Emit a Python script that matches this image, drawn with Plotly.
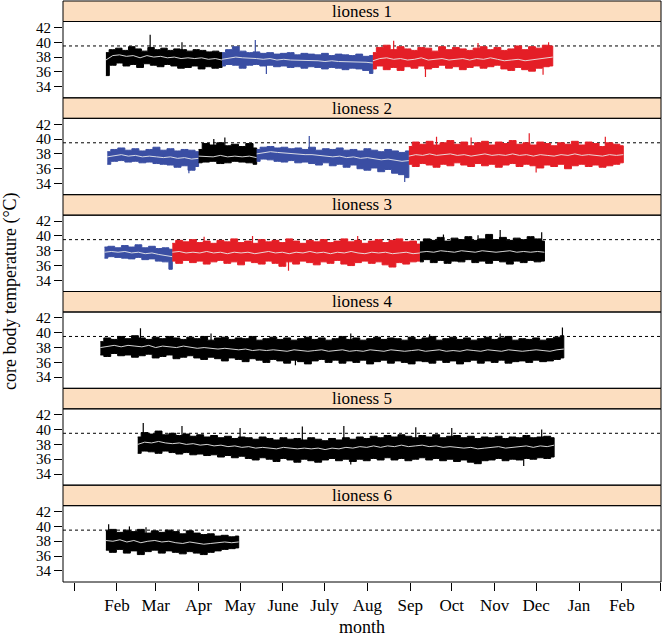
import pandas as pd
import plotly.graph_objects as go

# ---------------- data ----------------
MONTH_TICKS = ["2010-01-01", "2010-02-01", "2010-03-01", "2010-04-01", "2010-05-01",
               "2010-06-01", "2010-07-01", "2010-08-01", "2010-09-01", "2010-10-01",
               "2010-11-01", "2010-12-01", "2011-01-01", "2011-02-01", "2011-03-01"]
MONTH_LABELS = ["", "Feb", "Mar", "Apr", "May", "June", "July", "Aug", "Sep", "Oct",
                "Nov", "Dec", "Jan", "Feb", ""]
PANEL_NAMES = ["lioness 1", "lioness 2", "lioness 3", "lioness 4", "lioness 5", "lioness 6"]
THRESHOLD = 39.5
Y_TICKS = [34, 36, 38, 40, 42]

# lioness 1
L1_SEG_START = ["2010-01-24", "2010-04-18", "2010-08-05"]
L1_SEG_END = ["2010-04-18", "2010-08-05", "2010-12-13"]
L1_SEG_STATE = ["A", "B", "C"]
L1_HI = [[38.6, 39.0, 39.2, 38.9, 39.4, 39.1, 38.8, 39.3, 39.0, 39.2, 38.9, 39.1, 39.0, 38.8, 39.0, 38.9, 38.7, 38.8, 38.6],
         [38.6, 39.0, 39.4, 38.8, 38.6, 38.7, 38.5, 38.6, 38.4, 38.5, 38.6, 38.3, 38.5, 38.4, 38.3, 38.5, 38.2, 38.4, 38.3, 38.2, 38.4, 38.1, 38.2],
         [38.6, 39.3, 39.6, 39.0, 39.4, 39.1, 38.9, 39.3, 39.2, 38.8, 39.4, 39.0, 39.3, 39.1, 38.9, 39.2, 39.4, 39.0, 39.3, 38.9, 39.1, 39.5, 39.0, 39.4, 39.2, 39.6, 39.5]]
L1_LO = [[35.5, 36.9, 37.2, 36.8, 37.0, 36.6, 37.1, 36.9, 36.7, 37.0, 36.8, 36.5, 36.6, 36.8, 36.4, 36.7, 36.5, 36.6],
         [36.8, 37.0, 36.9, 36.5, 36.9, 37.0, 36.8, 36.9, 36.7, 36.8, 36.6, 36.7, 36.5, 36.7, 36.6, 36.4, 36.6, 36.5, 36.3, 36.5, 36.4, 36.2, 35.8],
         [36.4, 36.8, 36.3, 36.6, 36.2, 36.7, 36.5, 36.8, 36.4, 36.6, 36.9, 36.5, 36.7, 36.3, 36.6, 36.8, 36.5, 36.7, 36.9, 36.4, 36.2, 36.6, 36.3, 36.1, 36.5, 36.7, 36.8]]
L1_MID = [[37.6, 38.2, 38.3, 38.1, 38.2, 37.9, 38.2, 38.0, 38.1, 37.9, 38.0, 37.8, 37.9, 37.8, 37.9, 37.7, 37.8, 37.6],
          [37.7, 37.9, 38.0, 37.9, 37.8, 37.8, 37.7, 37.8, 37.6, 37.7, 37.6, 37.6, 37.5, 37.6, 37.5, 37.4, 37.5, 37.4, 37.4, 37.3, 37.4, 37.3, 37.2],
          [37.5, 37.8, 37.9, 37.7, 37.8, 37.6, 37.7, 37.9, 37.6, 37.7, 37.8, 37.6, 37.7, 37.8, 37.6, 37.8, 37.7, 37.9, 37.7, 37.5, 37.6, 37.7, 37.5, 37.6, 37.8, 37.9, 38.0]]
L1_SPIKE_DATES = ["2010-02-25", "2010-03-20", "2010-05-12", "2010-05-20", "2010-08-20", "2010-09-12", "2010-10-20", "2010-12-10", "2010-12-06"]
L1_SPIKE_VALS = [41.0, 40.0, 40.3, 35.7, 40.2, 35.3, 39.9, 40.0, 35.6]

# lioness 2
L2_SEG_START = ["2010-01-25", "2010-04-01", "2010-05-13", "2010-08-31"]
L2_SEG_END = ["2010-04-01", "2010-05-13", "2010-08-31", "2011-02-02"]
L2_SEG_STATE = ["B", "A", "B", "C"]
L2_HI = [[38.3, 38.6, 38.8, 38.5, 38.7, 38.4, 38.6, 38.9, 38.5, 38.7, 38.4, 38.6, 38.5, 38.3],
         [38.6, 39.4, 39.2, 39.5, 39.1, 39.3, 39.0, 39.4, 38.8],
         [38.6, 38.9, 39.0, 38.8, 38.9, 38.7, 38.8, 38.6, 38.9, 38.5, 38.7, 38.6, 38.8, 38.5, 38.6, 38.4, 38.7, 38.5, 38.3, 38.6, 38.4, 38.2, 38.4],
         [39.0, 39.6, 39.3, 39.7, 39.2, 39.5, 39.8, 39.3, 39.6, 39.1, 39.5, 39.7, 39.2, 39.6, 39.4, 39.8, 39.3, 39.5, 39.2, 39.6, 39.4, 39.1, 39.5, 39.3, 39.7, 39.2, 39.6, 39.4, 39.0, 39.5, 39.3, 39.1]]
L2_LO = [[36.6, 37.0, 37.1, 36.9, 37.0, 36.8, 36.9, 36.7, 36.6, 36.5, 36.2, 36.4, 35.8, 36.3],
         [36.8, 36.9, 37.0, 36.7, 36.8, 37.0, 36.9, 36.8, 36.6],
         [37.0, 37.3, 37.2, 37.0, 36.9, 37.1, 36.8, 36.9, 36.7, 36.5, 36.8, 36.4, 36.6, 36.2, 36.5, 36.0, 35.8, 36.1, 35.6, 35.9, 35.4, 35.2, 34.8],
         [36.6, 36.3, 36.7, 36.5, 36.2, 36.6, 36.4, 36.8, 36.5, 36.3, 36.7, 36.4, 36.6, 36.2, 36.5, 36.7, 36.3, 36.6, 36.4, 36.1, 36.5, 36.3, 36.6, 36.0, 36.4, 36.6, 36.3, 36.5, 36.2, 36.4, 36.6, 36.8]]
L2_MID = [[37.6, 37.8, 37.9, 37.7, 37.8, 37.6, 37.7, 37.6, 37.5, 37.6, 37.4, 37.5, 37.3, 37.4],
          [37.7, 37.7, 37.6, 37.8, 37.6, 37.7, 37.6, 37.7, 37.5],
          [38.0, 38.2, 38.3, 38.2, 38.1, 38.0, 38.0, 37.9, 37.9, 37.8, 37.8, 37.6, 37.7, 37.5, 37.6, 37.4, 37.5, 37.3, 37.2, 37.3, 37.1, 37.0, 37.1],
          [37.7, 37.9, 37.8, 38.0, 37.8, 37.9, 38.0, 37.8, 37.9, 37.7, 37.9, 38.0, 37.8, 37.9, 37.8, 38.0, 37.8, 37.9, 37.7, 37.9, 37.8, 37.7, 37.9, 37.8, 38.0, 37.8, 37.9, 37.8, 37.7, 37.9, 37.8, 37.9]]
L2_SPIKE_DATES = ["2010-03-25", "2010-04-12", "2010-04-20", "2010-06-20", "2010-08-28", "2010-09-20", "2010-10-15", "2010-11-26", "2010-12-01", "2011-01-20"]
L2_SPIKE_VALS = [35.4, 40.0, 40.2, 40.4, 34.2, 40.3, 40.2, 40.8, 35.5, 40.3]

# lioness 3
L3_SEG_START = ["2010-01-23", "2010-03-13", "2010-09-08"]
L3_SEG_END = ["2010-03-13", "2010-09-08", "2010-12-07"]
L3_SEG_STATE = ["B", "C", "A"]
L3_HI = [[38.5, 38.6, 38.4, 38.7, 38.5, 38.8, 38.4, 38.6, 38.3, 38.4, 38.2],
         [39.0, 39.4, 39.2, 39.5, 39.1, 39.3, 39.0, 39.4, 39.2, 39.6, 39.1, 39.3, 39.0, 39.5, 39.2, 39.4, 39.1, 39.6, 39.3, 39.0, 39.4, 39.2, 39.5, 39.1, 39.3, 39.6, 39.2, 39.4, 39.0, 39.3, 39.5, 39.1, 39.4, 39.6, 39.2, 39.3, 38.9],
         [39.2, 39.6, 39.4, 39.8, 39.3, 39.7, 39.5, 39.9, 39.4, 39.6, 40.2, 39.5, 39.8, 39.4, 39.7, 39.5, 39.9, 39.6, 39.3]]
L3_LO = [[37.0, 37.2, 37.1, 37.0, 36.9, 37.1, 36.8, 36.9, 36.6, 36.5, 35.5],
         [36.6, 36.3, 36.7, 36.4, 36.6, 36.2, 36.5, 36.7, 36.3, 36.5, 36.1, 36.6, 36.4, 36.2, 36.6, 36.3, 35.9, 36.5, 36.2, 36.6, 36.4, 36.1, 36.5, 36.3, 36.7, 36.2, 36.0, 36.4, 36.6, 36.3, 36.5, 36.1, 35.8, 36.4, 36.2, 36.5, 36.6],
         [36.5, 36.8, 36.4, 36.7, 36.3, 36.6, 36.5, 36.8, 36.4, 36.6, 36.3, 36.7, 36.5, 36.2, 36.6, 36.4, 36.7, 36.5, 36.6]]
L3_MID = [[37.8, 37.9, 37.8, 37.9, 37.7, 37.8, 37.6, 37.7, 37.5, 37.4, 37.2],
          [37.8, 37.9, 37.7, 37.8, 37.7, 37.9, 37.7, 37.8, 37.6, 37.8, 37.7, 37.8, 37.6, 37.8, 37.9, 37.7, 37.8, 37.6, 37.8, 37.7, 37.9, 37.7, 37.8, 37.6, 37.8, 37.7, 37.9, 37.7, 37.6, 37.8, 37.7, 37.8, 37.6, 37.7, 37.8, 37.6, 37.7],
          [37.8, 37.9, 37.8, 38.0, 37.9, 37.8, 38.0, 37.9, 37.8, 38.0, 37.9, 37.8, 37.9, 38.0, 37.8, 37.9, 37.8, 37.9, 37.8]]
L3_SPIKE_DATES = ["2010-04-05", "2010-05-10", "2010-06-05", "2010-07-25", "2010-09-25", "2010-10-20", "2010-11-05", "2010-12-05"]
L3_SPIKE_VALS = [39.9, 40.0, 35.3, 40.0, 40.2, 40.1, 40.8, 40.5]

# lioness 4
L4_SEG_START = ["2010-01-20"]
L4_SEG_END = ["2010-12-21"]
L4_SEG_STATE = ["A"]
L4_HI = [[38.8, 39.3, 39.1, 39.5, 39.2, 39.6, 39.3, 39.1, 39.4, 39.2, 39.5, 39.3, 39.1, 39.4, 39.2, 39.5, 39.0, 39.3, 39.4, 39.1,
          39.3, 39.2, 39.5, 39.0, 39.2, 39.4, 39.1, 39.3, 39.0, 39.2, 39.4, 39.1, 39.3, 39.0, 39.2, 39.5, 39.1, 39.3, 39.0, 39.2,
          39.4, 39.1, 39.3, 39.2, 39.0, 39.4, 39.1, 39.3, 39.5, 39.0, 39.2, 39.4, 39.1, 39.3, 39.0, 39.2, 39.4, 39.1, 39.3, 39.5,
          39.0, 39.2, 39.1, 39.3, 39.0, 39.2, 39.4, 39.6]]
L4_LO = [[37.0, 36.8, 37.2, 36.9, 37.0, 36.7, 36.9, 37.1, 36.6, 36.8, 37.0, 36.5, 36.7, 36.9, 36.6, 36.4, 36.7, 36.5, 36.2, 36.6,
          36.4, 36.1, 36.5, 36.3, 36.0, 36.4, 36.2, 35.9, 36.3, 36.1, 35.8, 36.2, 36.4, 36.0, 36.3, 35.9, 36.2, 36.0, 36.3, 35.8,
          36.1, 36.3, 35.9, 36.2, 36.0, 35.8, 36.2, 36.1, 35.9, 36.3, 36.0, 36.2, 35.8, 36.1, 36.3, 35.9, 36.2, 36.0, 36.3, 35.9,
          36.1, 36.2, 36.0, 36.3, 36.1, 36.2, 36.4, 36.6]]
L4_MID = [[38.0, 38.2, 38.3, 38.1, 38.3, 38.2, 38.1, 38.3, 38.0, 38.2, 38.1, 38.0, 38.2, 38.1, 37.9, 38.0, 37.9, 37.8, 37.9, 37.8,
           37.7, 37.8, 37.6, 37.7, 37.6, 37.7, 37.6, 37.5, 37.7, 37.6, 37.5, 37.6, 37.7, 37.5, 37.6, 37.7, 37.5, 37.6, 37.5, 37.7,
           37.6, 37.5, 37.7, 37.6, 37.5, 37.6, 37.7, 37.5, 37.6, 37.7, 37.5, 37.6, 37.5, 37.7, 37.6, 37.5, 37.7, 37.6, 37.5, 37.7,
           37.6, 37.5, 37.6, 37.7, 37.6, 37.5, 37.7, 37.8]]
L4_SPIKE_DATES = ["2010-02-18", "2010-04-10", "2010-06-10", "2010-07-20", "2010-09-15", "2010-11-05", "2010-12-20"]
L4_SPIKE_VALS = [40.6, 39.9, 35.6, 39.9, 39.8, 39.9, 40.7]

# lioness 5
L5_SEG_START = ["2010-02-16"]
L5_SEG_END = ["2010-12-14"]
L5_SEG_STATE = ["A"]
L5_HI = [[39.0, 39.6, 39.4, 39.8, 39.3, 39.5, 39.2, 39.4, 39.1, 39.3, 39.0, 39.2, 38.9, 39.1, 38.8, 39.0, 38.9, 38.7, 39.0, 38.8,
          38.6, 38.9, 38.7, 38.8, 38.6, 38.9, 38.7, 38.5, 38.8, 38.6, 38.9, 38.7, 39.0, 38.8, 39.1, 38.9, 39.2, 39.0, 39.3, 39.1,
          38.9, 39.2, 39.0, 39.3, 38.9, 39.1, 39.2, 38.9, 39.1, 38.8, 39.0, 38.9, 39.1, 38.8, 39.0, 38.9, 39.2, 38.9, 39.0, 39.1, 38.9]]
L5_LO = [[36.8, 37.1, 37.0, 36.8, 37.1, 36.9, 36.7, 36.9, 36.6, 36.7, 36.5, 36.6, 36.3, 36.5, 36.2, 36.4, 36.1, 35.9, 36.2, 36.0,
          35.7, 36.1, 35.9, 35.6, 36.0, 35.8, 35.6, 35.9, 36.1, 35.8, 36.0, 35.7, 36.0, 35.8, 36.1, 35.9, 36.2, 35.9, 36.1, 35.8,
          36.0, 36.2, 35.9, 36.1, 35.8, 36.0, 35.7, 35.9, 35.6, 35.4, 35.8, 35.9, 36.1, 35.8, 36.0, 35.9, 36.1, 36.0, 36.2, 36.1, 36.3]]
L5_MID = [[38.0, 38.3, 38.2, 38.4, 38.2, 38.1, 38.2, 38.0, 38.1, 37.9, 38.0, 37.8, 37.9, 37.7, 37.8, 37.6, 37.7, 37.5, 37.6, 37.5,
           37.4, 37.6, 37.5, 37.4, 37.5, 37.4, 37.5, 37.3, 37.5, 37.4, 37.6, 37.5, 37.7, 37.6, 37.8, 37.6, 37.8, 37.7, 37.9, 37.7,
           37.8, 37.9, 37.7, 37.8, 37.6, 37.7, 37.6, 37.5, 37.6, 37.4, 37.5, 37.6, 37.7, 37.5, 37.6, 37.7, 37.8, 37.6, 37.8, 37.7, 37.9]]
L5_SPIKE_DATES = ["2010-02-20", "2010-03-20", "2010-05-01", "2010-06-15", "2010-07-15", "2010-07-20", "2010-09-05", "2010-10-01", "2010-11-22", "2010-12-05"]
L5_SPIKE_VALS = [40.9, 40.5, 40.2, 40.4, 40.5, 35.3, 40.3, 40.2, 35.1, 40.0]

# lioness 6
L6_SEG_START = ["2010-01-24"]
L6_SEG_END = ["2010-04-30"]
L6_SEG_STATE = ["A"]
L6_HI = [[39.4, 39.6, 39.2, 39.5, 39.3, 39.6, 39.1, 39.4, 39.2, 39.5, 39.3, 39.0, 39.4, 39.1, 38.9, 39.0, 38.7, 38.8, 38.6, 38.7]]
L6_LO = [[36.8, 36.5, 36.9, 36.4, 36.7, 36.2, 36.6, 36.8, 36.4, 36.7, 36.5, 36.3, 36.6, 36.4, 36.2, 36.5, 36.7, 36.9, 37.0, 37.1]]
L6_MID = [[38.1, 38.0, 38.2, 37.9, 38.1, 37.8, 38.0, 38.1, 37.9, 38.0, 37.8, 37.7, 37.9, 37.8, 37.6, 37.7, 37.8, 37.9, 37.8, 37.9]]
L6_SPIKE_DATES = ["2010-01-26", "2010-02-10", "2010-02-22"]
L6_SPIKE_VALS = [40.3, 40.0, 39.9]

# ---------------- styles ----------------
STATE_COLORS = {"A": "#000000", "B": "#3a4ea3", "C": "#e41e26"}
STRIP_FILL = "#fcdec0"
FONT = "Liberation Serif"

W, H = 663, 638
ML, MR, MT, MB = 63, 2, 1, 56
PLOT_H = H - MT - MB
PANEL_H = PLOT_H / 6.0
STRIP_H = 20.5
X_RANGE = ["2009-12-24", "2011-03-01 06:00"]
Y_RANGE = [32.5, 42.8]

panels = [
    (L1_SEG_START, L1_SEG_END, L1_SEG_STATE, L1_HI, L1_LO, L1_MID, L1_SPIKE_DATES, L1_SPIKE_VALS),
    (L2_SEG_START, L2_SEG_END, L2_SEG_STATE, L2_HI, L2_LO, L2_MID, L2_SPIKE_DATES, L2_SPIKE_VALS),
    (L3_SEG_START, L3_SEG_END, L3_SEG_STATE, L3_HI, L3_LO, L3_MID, L3_SPIKE_DATES, L3_SPIKE_VALS),
    (L4_SEG_START, L4_SEG_END, L4_SEG_STATE, L4_HI, L4_LO, L4_MID, L4_SPIKE_DATES, L4_SPIKE_VALS),
    (L5_SEG_START, L5_SEG_END, L5_SEG_STATE, L5_HI, L5_LO, L5_MID, L5_SPIKE_DATES, L5_SPIKE_VALS),
    (L6_SEG_START, L6_SEG_END, L6_SEG_STATE, L6_HI, L6_LO, L6_MID, L6_SPIKE_DATES, L6_SPIKE_VALS),
]


def py2paper(py):
    return (MT + PLOT_H - py) / PLOT_H


fig = go.Figure()
layout = dict(
    template="none",
    width=W, height=H,
    margin=dict(l=ML, r=MR, t=MT, b=MB, autoexpand=False),
    paper_bgcolor="white", plot_bgcolor="white",
    showlegend=False,
    font=dict(family=FONT, color="black", size=16),
)
shapes = []
annotations = []

for i, (s_start, s_end, s_state, hi, lo, mid, sp_d, sp_v) in enumerate(panels):
    n = i + 1
    xa = "x" if n == 1 else f"x{n}"
    ya = "y" if n == 1 else f"y{n}"
    ptop = MT + i * PANEL_H
    strip_top = py2paper(ptop)
    strip_bot = py2paper(ptop + STRIP_H)
    plot_bot = py2paper(ptop + PANEL_H)

    # spikes (drawn first, underneath the band)
    seg_bounds = [(pd.Timestamp(a), pd.Timestamp(b), st) for a, b, st in zip(s_start, s_end, s_state)]
    for d, v in zip(sp_d, sp_v):
        t = pd.Timestamp(d)
        col = STATE_COLORS[s_state[0]]
        for a, b, st in seg_bounds:
            if a <= t <= b:
                col = STATE_COLORS[st]
        fig.add_trace(go.Scatter(x=[t, t], y=[37.8, v], mode="lines",
                                 line=dict(color=col, width=1.2),
                                 xaxis=xa, yaxis=ya, hoverinfo="skip"))

    for k in range(len(s_start)):
        col = STATE_COLORS[s_state[k]]
        dh = list(pd.date_range(s_start[k], s_end[k], periods=len(hi[k])))
        dl = list(pd.date_range(s_start[k], s_end[k], periods=len(lo[k])))
        dm = list(pd.date_range(s_start[k], s_end[k], periods=len(mid[k])))
        fig.add_trace(go.Scatter(
            x=dh + dl[::-1], y=list(hi[k]) + list(lo[k])[::-1],
            mode="lines", fill="toself", fillcolor=col,
            line=dict(color=col, width=1, shape="hvh"),
            xaxis=xa, yaxis=ya, hoverinfo="skip"))
        fig.add_trace(go.Scatter(
            x=dm, y=mid[k], mode="lines",
            line=dict(color="rgba(235,235,235,0.9)", width=1),
            xaxis=xa, yaxis=ya, hoverinfo="skip"))

    bottom = (n == 6)
    layout["xaxis" if n == 1 else f"xaxis{n}"] = dict(
        domain=[0, 1], anchor=ya, type="date", range=X_RANGE, automargin=False,
        showgrid=False, zeroline=False, showline=False,
        tickmode="array",
        tickvals=MONTH_TICKS if bottom else [],
        ticktext=MONTH_LABELS if bottom else [],
        ticks="outside" if bottom else "", ticklen=8, tickcolor="black", tickwidth=1,
        showticklabels=bottom,
        tickfont=dict(family=FONT, size=17, color="black"),
    )
    layout["yaxis" if n == 1 else f"yaxis{n}"] = dict(
        domain=[plot_bot, strip_bot], anchor=xa, range=Y_RANGE, automargin=False,
        showgrid=False, zeroline=False, showline=False,
        tickmode="array",
        tickvals=Y_TICKS, ticktext=[str(v) for v in Y_TICKS],
        ticks="outside", ticklen=8, tickcolor="black", tickwidth=1,
        tickfont=dict(family=FONT, size=15, color="black"),
    )

    # strip
    shapes.append(dict(type="rect", xref="paper", yref="paper", x0=0, x1=1,
                       y0=strip_bot, y1=strip_top, fillcolor=STRIP_FILL,
                       line=dict(color="black", width=1), layer="below"))
    # panel frame
    shapes.append(dict(type="rect", xref="paper", yref="paper", x0=0, x1=1,
                       y0=plot_bot, y1=strip_bot, fillcolor="rgba(0,0,0,0)",
                       line=dict(color="black", width=1), layer="above"))
    # threshold
    shapes.append(dict(type="line", xref="paper", yref=ya, x0=0, x1=1,
                       y0=THRESHOLD, y1=THRESHOLD,
                       line=dict(color="black", width=1, dash="dot"), layer="below"))
    annotations.append(dict(text=PANEL_NAMES[i], xref="paper", yref="paper",
                            x=0.5, y=(strip_top + strip_bot) / 2, showarrow=False,
                            xanchor="center", yanchor="middle",
                            font=dict(family=FONT, size=17, color="black")))

annotations.append(dict(text="month", xref="paper", yref="paper", x=0.5,
                        y=py2paper(627), showarrow=False, xanchor="center", yanchor="middle",
                        font=dict(family=FONT, size=18, color="black")))
annotations.append(dict(text="core body temperature (°C)", xref="paper", yref="paper",
                        x=(10 - ML) / (W - ML - MR), y=py2paper(291), showarrow=False,
                        textangle=-90, xanchor="center", yanchor="middle",
                        font=dict(family=FONT, size=18, color="black")))

layout["shapes"] = shapes
layout["annotations"] = annotations
fig.update_layout(**layout)
fig.write_html("out.html", config={"displayModeBar": False},
               post_script="document.body.style.margin='0';document.body.style.padding='0';")
